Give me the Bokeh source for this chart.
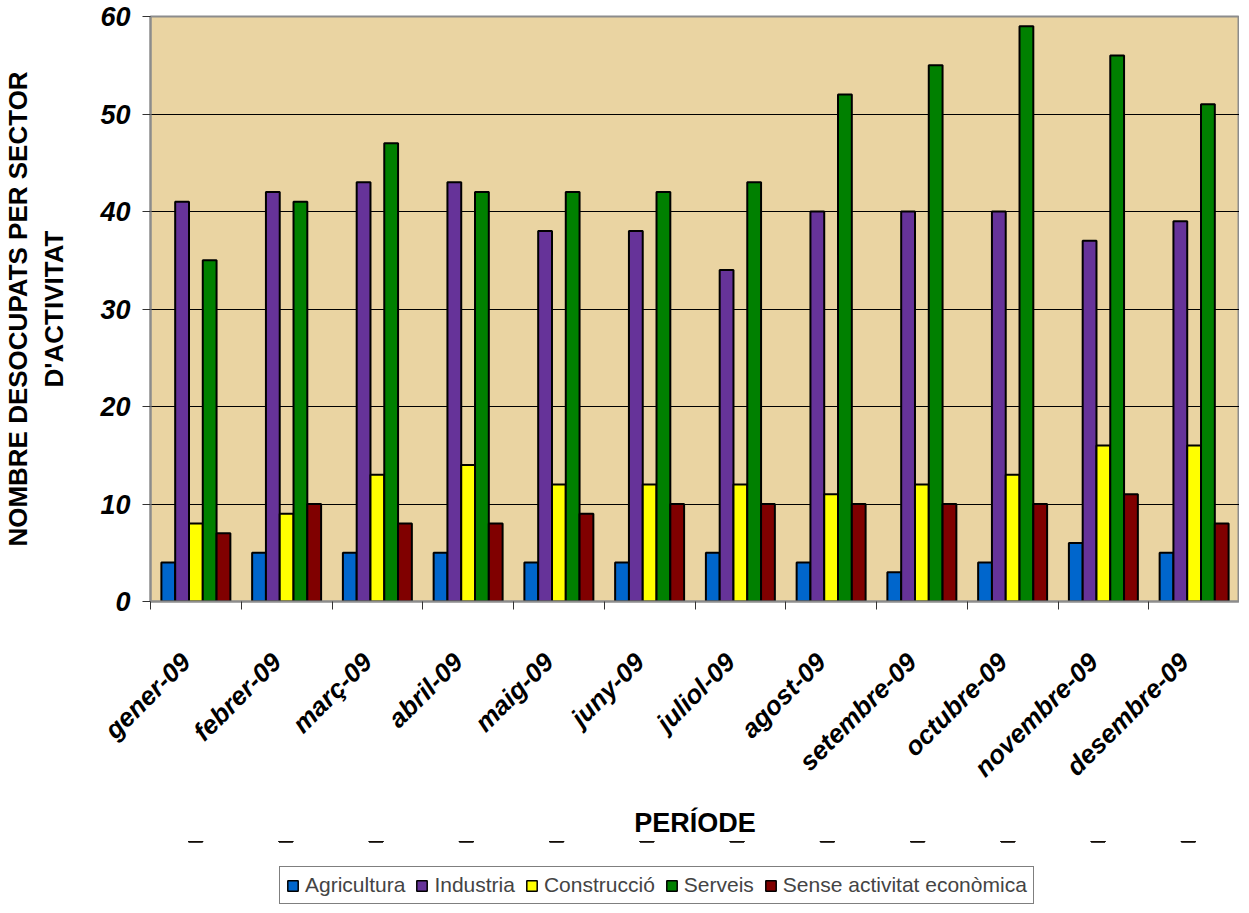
import math
from bokeh.plotting import figure
from bokeh.layouts import column
from bokeh.models import (Range1d, LinearAxis, FixedTicker,
                          Legend, LegendItem, ColumnDataSource)
from bokeh.transform import dodge
from bokeh.embed import file_html
from bokeh.resources import INLINE

months = ["gener-09", "febrer-09", "març-09", "abril-09", "maig-09", "juny-09",
          "juliol-09", "agost-09", "setembre-09", "octubre-09", "novembre-09", "desembre-09"]
agricultura = [4, 5, 5, 5, 4, 4, 5, 4, 3, 4, 6, 5]
industria = [41, 42, 43, 43, 38, 38, 34, 40, 40, 40, 37, 39]
construccio = [8, 9, 13, 14, 12, 12, 12, 11, 12, 13, 16, 16]
serveis = [35, 41, 47, 42, 42, 42, 43, 52, 55, 59, 56, 51]
sense = [7, 10, 8, 8, 9, 10, 10, 10, 10, 10, 11, 8]
series_names = ["Agricultura", "Industria", "Construcció", "Serveis", "Sense activitat econòmica"]
y_ticks = [0, 10, 20, 30, 40, 50, 60]

colors = ["#0066CC", "#663399", "#FFFF00", "#008000", "#800000"]
keys = ["agri", "ind", "cons", "serv", "sense"]

n = len(months)
centers = [i + 0.5 for i in range(n)]
label_pos = [c - 0.11 for c in centers]
src = ColumnDataSource(dict(xc=centers, month=months, agri=agricultura, ind=industria,
                            cons=construccio, serv=serveis, sense=sense))

FONT = "Liberation Sans"

p = figure(frame_width=1089, frame_height=585,
           x_range=Range1d(0, n), y_range=Range1d(0, 60),
           output_backend="svg", toolbar_location=None,
           x_axis_location=None, y_axis_location="left",
           min_border_left=144, min_border_top=16, min_border_right=0, min_border_bottom=0,
           background_fill_color="#EAD4A2", border_fill_color="white",
           outline_line_color="#8C8C8C", outline_line_width=2)

tick_axis = LinearAxis(ticker=FixedTicker(ticks=list(range(n + 1))),
                       major_label_text_font_size="1px", major_label_text_alpha=0,
                       major_tick_out=8, major_tick_in=0,
                       major_tick_line_color="#333333", major_tick_line_width=1,
                       minor_tick_line_color=None,
                       axis_line_color="#8C8C8C", axis_line_width=2,
                       major_label_standoff=0)
p.add_layout(tick_axis, "below")

cat_axis = LinearAxis(ticker=FixedTicker(ticks=label_pos),
                      major_label_overrides={c: m for c, m in zip(label_pos, months)},
                      major_tick_line_color=None, axis_line_color=None,
                      minor_tick_line_color=None,
                      major_label_orientation=math.pi / 4,
                      major_label_text_font=FONT,
                      major_label_text_font_style="bold italic",
                      major_label_text_font_size="26px",
                      major_label_text_color="black",
                      major_label_standoff=42,
                      axis_label="PERÍODE",
                      axis_label_text_font=FONT,
                      axis_label_text_font_style="bold",
                      axis_label_text_font_size="27px",
                      axis_label_text_color="black",
                      axis_label_standoff=12)
p.add_layout(cat_axis, "below")

bw = 0.152
for i, (k, c) in enumerate(zip(keys, colors)):
    p.vbar(x=dodge("xc", (i - 2) * bw), top=k, width=bw,
           source=src, fill_color=c, line_color="black", line_width=2)

yax = p.yaxis[0]
yax.ticker = FixedTicker(ticks=y_ticks)
yax.major_label_text_font = FONT
yax.major_label_text_font_style = "bold italic"
yax.major_label_text_font_size = "27px"
yax.major_label_text_color = "black"
yax.major_tick_out = 8
yax.major_tick_in = 0
yax.minor_tick_line_color = None
yax.major_tick_line_color = "#333333"
yax.axis_line_color = "#8C8C8C"
yax.axis_line_width = 2
yax.major_label_standoff = 12
yax.axis_label = "NOMBRE DESOCUPATS PER SECTOR\nD'ACTIVITAT"
yax.axis_label_text_font = FONT
yax.axis_label_text_font_style = "bold"
yax.axis_label_text_font_size = "26px"
yax.axis_label_text_color = "black"
yax.axis_label_standoff = 28

p.xgrid.visible = False
p.ygrid.ticker = FixedTicker(ticks=y_ticks)
p.ygrid.grid_line_color = "black"
p.ygrid.grid_line_width = 1

# legend strip below the chart (its bars use the same data, outside the strip's visible range)
p2 = figure(width=1233, height=64, x_range=Range1d(0, n), y_range=Range1d(-20, -19),
            output_backend="svg", toolbar_location=None, min_border=0,
            outline_line_color=None, background_fill_color="white",
            border_fill_color="white")
p2.axis.visible = False
p2.grid.visible = False
items = []
for nm, k, c in zip(series_names, keys, colors):
    r = p2.vbar(x="xc", top=k, width=bw, source=src,
                fill_color=c, line_color="black", line_width=1.5)
    items.append(LegendItem(label=nm, renderers=[r]))

legend = Legend(items=items, orientation="horizontal", location=(129, 1),
                border_line_color="black", border_line_width=1,
                glyph_width=13, glyph_height=13,
                label_text_font=FONT, label_text_font_size="21px",
                label_standoff=6, spacing=10, padding=6, margin=0,
                background_fill_color="white", background_fill_alpha=1)
p2.add_layout(legend, "center")

open("out.html", "w").write(file_html(column(p, p2, spacing=0), INLINE))
